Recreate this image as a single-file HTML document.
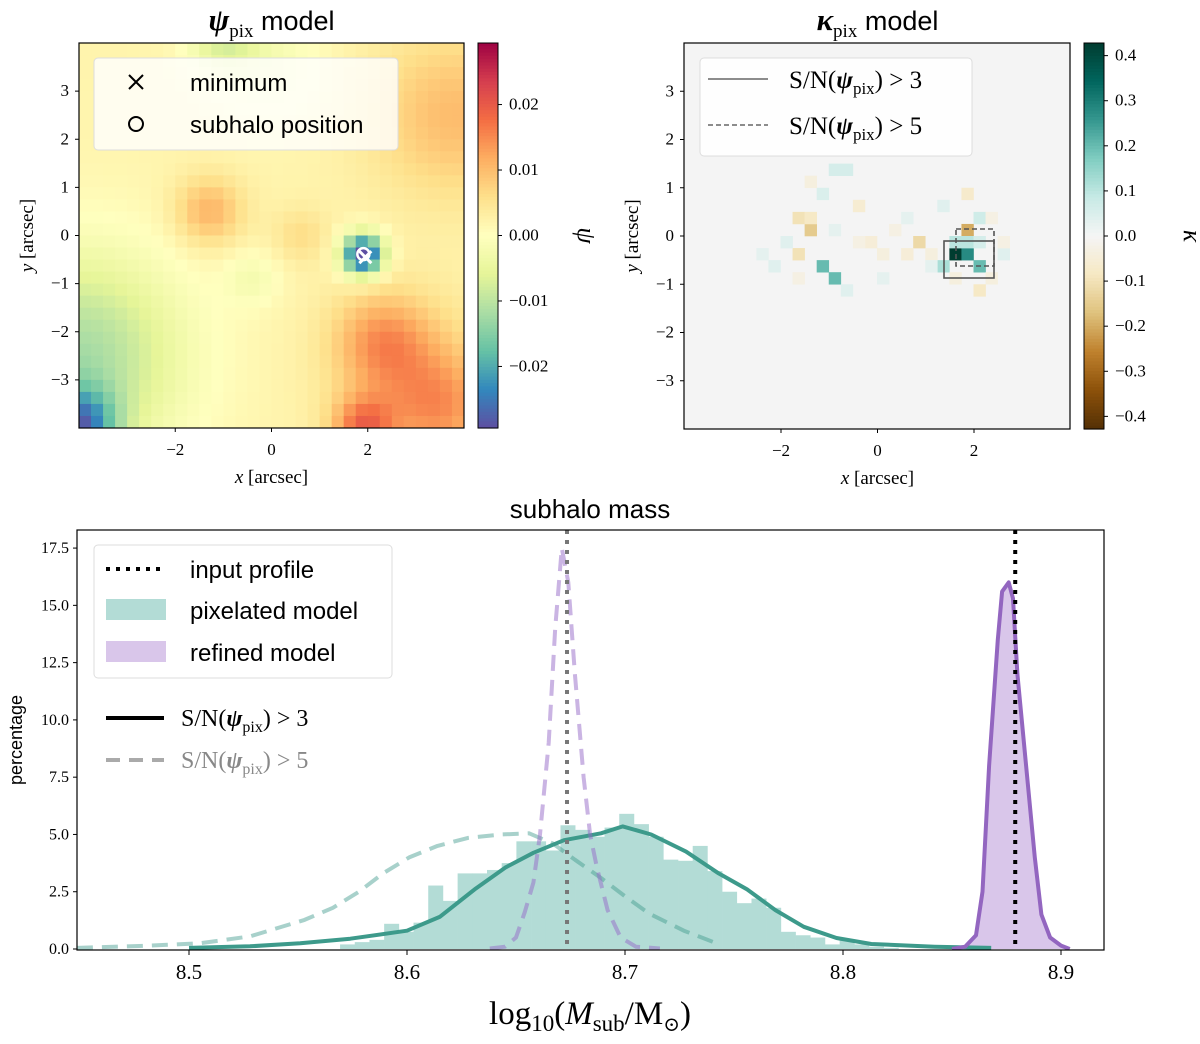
<!DOCTYPE html>
<html><head><meta charset="utf-8"><style>
html,body{margin:0;padding:0;background:#fff}
svg{display:block}
.tk{font-family:"Liberation Serif","DejaVu Serif",serif;fill:#000}
.sans{font-family:"Liberation Sans","DejaVu Sans",sans-serif;fill:#000}
.ser{font-family:"Liberation Serif","DejaVu Serif",serif;fill:#000}
</style></head><body>
<svg id="fig" width="1200" height="1044" viewBox="0 0 1200 1044" xmlns="http://www.w3.org/2000/svg">
<g id="psiPanel"></g>
<g id="kapPanel"></g>
<g id="massPanel"></g>
</svg>
<script>
// ---------- data: psi map (blob components) ----------
const psiBlobX = [-1.3, 1.9, 2.3, 1.9, -4.0, -4.0, 3.8, -1.0, 0.6, -0.4, 3.5, 0.0, 3.0];
const psiBlobY = [0.5, -0.4, -2.2, -4.0, -4.0, -2.5, 2.5, 4.0, 0.0, -0.9, -3.6, 3.5, -3.0];
const psiBlobAmp = [0.009, -0.034, 0.01, 0.014, -0.022, -0.014, 0.008, -0.008, 0.004, -0.004, 0.009, -0.004, 0.005];
const psiBlobSig = [0.5, 0.3, 0.7, 0.45, 0.55, 1.5, 1.2, 0.5, 0.4, 0.4, 0.8, 0.8, 1.2];
const psiBase = 0.002;
const psiTicks = [0.02, 0.01, 0.0, -0.01, -0.02];
const psiTickLabels = ["0.02", "0.01", "0.00", "\u22120.01", "\u22120.02"];
// ---------- data: kappa map (sparse cells: col,row,value) ----------
const kapCol = [22, 23, 23, 22, 23, 24, 21, 24, 11, 12, 10, 9, 10, 9, 14, 19, 23, 24, 24, 12, 13, 11, 18, 20, 8, 7, 16, 15, 25, 26, 17, 21, 9, 13, 18, 26, 22, 20, 6, 14, 16, 25, 10, 12];
const kapRow = [17, 17, 15, 16, 16, 16, 18, 18, 18, 19, 15, 14, 14, 17, 13, 16, 12, 20, 14, 10, 10, 12, 17, 17, 16, 18, 17, 16, 19, 17, 15, 13, 19, 20, 14, 16, 19, 18, 17, 16, 19, 14, 11, 15];
const kapVal = [0.43, 0.28, -0.2, 0.1, 0.1, 0.06, 0.12, 0.2, 0.2, 0.2, -0.15, -0.1, -0.08, -0.1, -0.06, -0.12, -0.07, -0.08, 0.07, 0.06, 0.06, 0.05, -0.05, -0.04, 0.04, 0.04, -0.04, -0.05, -0.04, 0.04, -0.03, 0.04, -0.03, 0.04, 0.03, -0.03, -0.04, 0.03, 0.03, -0.03, 0.03, -0.03, -0.04, 0.03];
const kapTicks = [0.4, 0.3, 0.2, 0.1, 0.0, -0.1, -0.2, -0.3, -0.4];
const kapTickLabels = ["0.4", "0.3", "0.2", "0.1", "0.0", "\u22120.1", "\u22120.2", "\u22120.3", "\u22120.4"];
const mapTicks = [-2, 0, 2];
const mapTickLabels = ["\u22122", "0", "2"];
const mapYTicks = [3, 2, 1, 0, -1, -2, -3];
const mapYTickLabels = ["3", "2", "1", "0", "\u22121", "\u22122", "\u22123"];
// ---------- data: mass panel ----------
const histStart = 8.5693;
const histWidth = 0.00674;
const histHeights = [0.2, 0.3, 0.4, 1.1, 0.75, 1.15, 2.77, 2.1, 3.3, 3.3, 3.45, 3.75, 4.7, 4.7, 4.3, 5.4, 5.2, 4.9, 5.3, 5.9, 5.45, 4.9, 3.9, 3.85, 4.5, 3.4, 2.5, 2.0, 2.2, 1.8, 0.75, 0.6, 0.5, 0.2, 0.4, 0.2, 0.1, 0.05];
const tealSolidX = [8.50, 8.528, 8.551, 8.574, 8.600, 8.615, 8.631, 8.645, 8.658, 8.672, 8.689, 8.699, 8.712, 8.728, 8.743, 8.756, 8.769, 8.782, 8.797, 8.813, 8.842, 8.868];
const tealSolidY = [0.05, 0.12, 0.25, 0.45, 0.8, 1.4, 2.6, 3.55, 4.2, 4.75, 5.05, 5.35, 5.0, 4.25, 3.3, 2.6, 1.7, 0.97, 0.48, 0.22, 0.1, 0.05];
const tealDashX = [8.4486, 8.482, 8.505, 8.528, 8.553, 8.566, 8.578, 8.589, 8.601, 8.614, 8.628, 8.643, 8.656, 8.667, 8.677, 8.689, 8.700, 8.711, 8.727, 8.742];
const tealDashY = [0.05, 0.15, 0.25, 0.55, 1.27, 1.8, 2.5, 3.3, 4.0, 4.5, 4.85, 5.0, 5.05, 4.6, 3.9, 3.1, 2.3, 1.55, 0.8, 0.25];
const purpDashX = [8.638, 8.645, 8.650, 8.654, 8.658, 8.661, 8.665, 8.668, 8.671, 8.674, 8.677, 8.681, 8.684, 8.687, 8.692, 8.698, 8.705, 8.716];
const purpDashY = [0.02, 0.1, 0.5, 1.6, 2.9, 5, 9, 14, 17.5, 16, 12, 7.5, 5, 3.6, 1.7, 0.5, 0.1, 0.02];
const purpSolidX = [8.850, 8.856, 8.861, 8.864, 8.867, 8.871, 8.873, 8.876, 8.878, 8.880, 8.884, 8.888, 8.891, 8.895, 8.900, 8.904];
const purpSolidY = [0.0, 0.1, 0.6, 2.5, 8, 13.5, 15.6, 16.0, 15.3, 12, 8, 4, 1.5, 0.5, 0.15, 0.0];
const inputValue = 8.879;
const snr5Value = 8.6734;
const massXTicks = [8.5, 8.6, 8.7, 8.8, 8.9];
const massXTickLabels = ["8.5", "8.6", "8.7", "8.8", "8.9"];
const massYTicks = [0, 2.5, 5, 7.5, 10, 12.5, 15, 17.5];
const massYTickLabels = ["0.0", "2.5", "5.0", "7.5", "10.0", "12.5", "15.0", "17.5"];

const NS = "http://www.w3.org/2000/svg";
function mk(parent, tag, attrs, text) {
  const e = document.createElementNS(NS, tag);
  for (const k in attrs) e.setAttribute(k, attrs[k]);
  if (text !== undefined) e.textContent = text;
  parent.appendChild(e);
  return e;
}
function hex(h){return [parseInt(h.substr(1,2),16),parseInt(h.substr(3,2),16),parseInt(h.substr(5,2),16)];}
function cmap(stops, t){
  t=Math.max(0,Math.min(1,t));
  const n=stops.length-1, f=t*n, i=Math.min(n-1,Math.floor(f)), u=f-i;
  const a=hex(stops[i]), b=hex(stops[i+1]);
  return "rgb("+a.map((v,k)=>Math.round(v+(b[k]-v)*u)).join(",")+")";
}
const spectralR = ["#5e4fa2","#3288bd","#66c2a5","#abdda4","#e6f598","#ffffbf","#fee08b","#fdae61","#f46d43","#d53e4f","#9e0142"];
const brbg = ["#543005","#8c510a","#bf812d","#dfc27d","#f6e8c3","#f5f5f5","#c7eae5","#80cdc1","#35978f","#01665e","#003c30"];

function mapAxes(g, L, T, S, cx, cy, titleSym, cbX, cbTicks, cbLabels, vmin, vmax, stops, cbSym, cbName) {
  const R = L + S, B = T + S;
  const sx = v => cx + v * (S / 8), sy = v => cy - v * (S / 8);
  mapTicks.forEach((v, i) => {
    const x = sx(v);
    const t = mk(g, "line", {x1:x, x2:x, y1:B, y2:B+4, stroke:"#000", "stroke-width":1});
    
    
    const lb = mk(g, "text", {x:x, y:B+27, "text-anchor":"middle", class:"tk", "font-size":"17"}, mapTickLabels[i]);
    
    
  });
  mapYTicks.forEach((v, i) => {
    const y = sy(v);
    const t = mk(g, "line", {x1:L-4, x2:L, y1:y, y2:y, stroke:"#000", "stroke-width":1});
    
    
    const lb = mk(g, "text", {x:L-10, y:y+5, "text-anchor":"end", class:"tk", "font-size":"17"}, mapYTickLabels[i]);
    
    
  });
  const xl = mk(g, "text", {x:cx, y:B+55, "text-anchor":"middle", class:"ser", "font-size":"19"});
  xl.innerHTML = '<tspan font-style="italic">x</tspan> [arcsec]';
  
  
  const yl = mk(g, "text", {x:0, y:0, "text-anchor":"middle", class:"ser", "font-size":"19", transform:"translate("+(L-46)+","+cy+") rotate(-90)"});
  yl.innerHTML = '<tspan font-style="italic">y</tspan> [arcsec]';
  
  
  const tt = mk(g, "text", {x:cx, y:30, "text-anchor":"middle", "font-size":"27"});
  tt.innerHTML = '<tspan class="ser" font-weight="bold" font-style="italic" font-size="31">'+titleSym+'</tspan><tspan class="ser" font-size="19" dy="7">pix</tspan><tspan class="sans" dy="-7"> model</tspan>';
  
  
  const cbw = 20, N = 120;
  const cg = mk(g, "g", {});
  
  
  for (let i = 0; i < N; i++) {
    const y = T + i * S / N;
    const v = vmax - (i + 0.5) / N * (vmax - vmin);
    mk(cg, "rect", {x:cbX, y:y, width:cbw, height:S/N+0.6, fill:cmap(stops, (v - vmin)/(vmax - vmin))});
  }
  mk(cg, "rect", {x:cbX, y:T, width:cbw, height:S, fill:"none", stroke:"#000", "stroke-width":1});
  cbTicks.forEach((v, i) => {
    const y = T + (vmax - v) / (vmax - vmin) * S;
    mk(cg, "line", {x1:cbX+cbw, x2:cbX+cbw+4, y1:y, y2:y, stroke:"#000"});
    const lb = mk(cg, "text", {x:cbX+cbw+11, y:y+5, class:"tk", "font-size":"17"}, cbLabels[i]);
    
    
  });
  const cl = mk(g, "text", {x:0, y:0, "text-anchor":"middle", class:"ser", "font-size":"26", "font-style":"italic", transform:"translate("+(cbX+cbw+80)+","+cy+") rotate(90)"}, cbSym);
  
  
  return {sx, sy, R, B};
}

// ===== psi panel =====
(function(){
  const g = document.getElementById("psiPanel");
  const L = 79, T = 43, S = 385, cx = 271.5, cy = 235.5, n = 32, c = S / n;
  const vmin = -0.0294, vmax = 0.0294;
  const hg = mk(g, "g", {});
  
  
  for (let r = 0; r < n; r++) for (let q = 0; q < n; q++) {
    const x = -4 + (q + 0.5) * 0.25, y = 4 - (r + 0.5) * 0.25;
    let v = psiBase;
    for (let k = 0; k < psiBlobX.length; k++) {
      const d2 = (x - psiBlobX[k]) ** 2 + (y - psiBlobY[k]) ** 2;
      v += psiBlobAmp[k] * Math.exp(-d2 / (2 * psiBlobSig[k] ** 2));
    }
    const cell = mk(hg, "rect", {x:L + q*c, y:T + r*c, width:c+0.5, height:c+0.5, fill:cmap(spectralR, (v - vmin)/(vmax - vmin))});
    
    
  }
  const ax = mapAxes(g, L, T, S, cx, cy, "\u03c8", 478, psiTicks, psiTickLabels, vmin, vmax, spectralR, "\u03c8", "psi-colorbar");
  const mx = ax.sx(1.95), my = ax.sy(-0.45);
  const m1 = mk(g, "circle", {cx:mx-2, cy:my-3, r:6, fill:"none", stroke:"#fff", "stroke-width":2.5});
  
  
  const m2 = mk(g, "path", {d:"M"+(mx-6)+","+(my-6)+"L"+(mx+6)+","+(my+6)+"M"+(mx+6)+","+(my-6)+"L"+(mx-6)+","+(my+6), stroke:"#fff", "stroke-width":3});
  
  
  mk(g, "rect", {x:L, y:T, width:S, height:S, fill:"none", stroke:"#000", "stroke-width":1.2});
  const lg = mk(g, "g", {});
  
  
  mk(lg, "rect", {x:94, y:58, width:304, height:92, rx:4, fill:"rgba(255,255,255,0.8)", stroke:"#ddd"});
  mk(lg, "path", {d:"M129,75L143,89M143,75L129,89", stroke:"#000", "stroke-width":2});
  mk(lg, "text", {x:190, y:91, class:"sans", "font-size":"24"}, "minimum");
  mk(lg, "circle", {cx:136, cy:124, r:7, fill:"none", stroke:"#000", "stroke-width":2});
  mk(lg, "text", {x:190, y:133, class:"sans", "font-size":"24"}, "subhalo position");
})();

// ===== kappa panel =====
(function(){
  const g = document.getElementById("kapPanel");
  const L = 684, T = 43, S = 386, cx = 877.5, cy = 236, n = 32, c = S / n;
  const vmin = -0.428, vmax = 0.428;
  mk(g, "rect", {x:L, y:T, width:S, height:S, fill:"#f4f4f4"});
  const hg = mk(g, "g", {});
  
  
  for (let i = 0; i < kapCol.length; i++) {
    const cell = mk(hg, "rect", {x:L + kapCol[i]*c, y:T + kapRow[i]*c, width:c+0.3, height:c+0.3, fill:cmap(brbg, (kapVal[i] - vmin)/(vmax - vmin))});
    
    
  }
  mapAxes(g, L, T, S, cx, cy, "\u03ba", 1084, kapTicks, kapTickLabels, vmin, vmax, brbg, "\u03ba", "kappa-colorbar");
  const b1 = mk(g, "rect", {x:944, y:241, width:50, height:37, fill:"none", stroke:"#555", "stroke-width":1.6});
  
  
  const b2 = mk(g, "rect", {x:956, y:229, width:38, height:37, fill:"none", stroke:"#555", "stroke-width":1.6, "stroke-dasharray":"5,3"});
  
  
  mk(g, "rect", {x:L, y:T, width:S, height:S, fill:"none", stroke:"#000", "stroke-width":1.2});
  const lg = mk(g, "g", {});
  
  
  mk(lg, "rect", {x:700, y:58, width:272, height:98, rx:4, fill:"rgba(255,255,255,0.85)", stroke:"#ddd"});
  mk(lg, "line", {x1:708, x2:768, y1:79, y2:79, stroke:"#666", "stroke-width":1.6});
  mk(lg, "line", {x1:708, x2:768, y1:125, y2:125, stroke:"#666", "stroke-width":1.6, "stroke-dasharray":"5,3"});
  const t1 = mk(lg, "text", {x:789, y:88, class:"ser", "font-size":"25"});
  t1.innerHTML = 'S/N(<tspan font-weight="bold" font-style="italic">\u03c8</tspan><tspan font-size="17" dy="6">pix</tspan><tspan dy="-6">) &gt; 3</tspan>';
  const t2 = mk(lg, "text", {x:789, y:134, class:"ser", "font-size":"25"});
  t2.innerHTML = 'S/N(<tspan font-weight="bold" font-style="italic">\u03c8</tspan><tspan font-size="17" dy="6">pix</tspan><tspan dy="-6">) &gt; 5</tspan>';
})();

// ===== mass panel =====
(function(){
  const g = document.getElementById("massPanel");
  const L = 77, T = 530, R = 1104, B = 950;
  const sx = v => 189 + (v - 8.5) * 2180;
  const sy = v => 949 - v * 22.91;
  const clip = mk(g, "clipPath", {id:"mclip"});
  mk(clip, "rect", {x:L, y:T, width:R-L, height:B-T});
  const pg = mk(g, "g", {"clip-path":"url(#mclip)"});
  histHeights.forEach((h, i) => {
    const x0 = sx(histStart + i * histWidth), x1 = sx(histStart + (i + 1) * histWidth);
    const b = mk(pg, "rect", {x:x0, y:sy(h), width:x1 - x0 + 0.3, height:sy(0) - sy(h), fill:"#b3dcd6"});
    
    
  });
  const pts = (X, Y) => X.map((x, i) => sx(x).toFixed(1) + "," + sy(Y[i]).toFixed(1)).join(" ");
  const pf = mk(pg, "polygon", {points: sx(purpSolidX[0]) + "," + sy(0) + " " + pts(purpSolidX, purpSolidY) + " " + sx(purpSolidX[purpSolidX.length-1]) + "," + sy(0), fill:"#d9c6ea"});
  
  
  const l1 = mk(pg, "polyline", {points:pts(tealDashX, tealDashY), fill:"none", stroke:"rgba(61,154,139,0.45)", "stroke-width":4, "stroke-dasharray":"16,9", "stroke-linejoin":"round"});
  
  
  const l2 = mk(pg, "polyline", {points:pts(tealSolidX, tealSolidY), fill:"none", stroke:"#3d9a8b", "stroke-width":4, "stroke-linejoin":"round"});
  
  
  const l3 = mk(pg, "polyline", {points:pts(purpDashX, purpDashY), fill:"none", stroke:"rgba(150,105,200,0.5)", "stroke-width":4, "stroke-dasharray":"16,9", "stroke-linejoin":"round"});
  
  
  const l4 = mk(pg, "polyline", {points:pts(purpSolidX, purpSolidY), fill:"none", stroke:"#9366c0", "stroke-width":4, "stroke-linejoin":"round"});
  
  
  const v1 = mk(pg, "line", {x1:sx(inputValue), x2:sx(inputValue), y1:T, y2:B, stroke:"#000", "stroke-width":4, "stroke-dasharray":"4,6"});
  
  
  const v2 = mk(pg, "line", {x1:sx(snr5Value), x2:sx(snr5Value), y1:T, y2:B, stroke:"#777", "stroke-width":4, "stroke-dasharray":"4,6"});
  
  
  mk(g, "rect", {x:L, y:T, width:R-L, height:B-T, fill:"none", stroke:"#000", "stroke-width":1.2});
  massXTicks.forEach((v, i) => {
    const x = sx(v);
    mk(g, "line", {x1:x, x2:x, y1:B, y2:B+5, stroke:"#000"});
    const lb = mk(g, "text", {x:x, y:B+29, "text-anchor":"middle", class:"tk", "font-size":"21"}, massXTickLabels[i]);
    
    
  });
  massYTicks.forEach((v, i) => {
    const y = sy(v);
    mk(g, "line", {x1:L-4, x2:L, y1:y, y2:y, stroke:"#000"});
    const lb = mk(g, "text", {x:L-8, y:y+5, "text-anchor":"end", class:"tk", "font-size":"16"}, massYTickLabels[i]);
    
    
  });
  const tt = mk(g, "text", {x:590, y:518, "text-anchor":"middle", class:"sans", "font-size":"26"}, "subhalo mass");
  
  
  const yl = mk(g, "text", {x:0, y:0, "text-anchor":"middle", class:"sans", "font-size":"18", transform:"translate(22,740) rotate(-90)"}, "percentage");
  
  
  const xl = mk(g, "text", {x:590, y:1024, "text-anchor":"middle", class:"ser", "font-size":"33"});
  xl.innerHTML = 'log<tspan font-size="23" dy="7">10</tspan><tspan dy="-7">(</tspan><tspan font-style="italic">M</tspan><tspan font-size="23" dy="7">sub</tspan><tspan dy="-7">/M</tspan><tspan font-size="20" dy="7">\u2299</tspan><tspan dy="-7">)</tspan>';
  
  
  const lg = mk(g, "g", {});
  
  
  mk(lg, "rect", {x:94, y:545, width:298, height:133, rx:4, fill:"rgba(255,255,255,0.85)", stroke:"#ddd"});
  mk(lg, "line", {x1:106, x2:166, y1:569, y2:569, stroke:"#000", "stroke-width":4, "stroke-dasharray":"4,6"});
  mk(lg, "text", {x:190, y:578, class:"sans", "font-size":"24"}, "input profile");
  mk(lg, "rect", {x:106, y:599, width:60, height:21, fill:"#b3dcd6"});
  mk(lg, "text", {x:190, y:619, class:"sans", "font-size":"24"}, "pixelated model");
  mk(lg, "rect", {x:106, y:641, width:60, height:21, fill:"#d9c6ea"});
  mk(lg, "text", {x:190, y:661, class:"sans", "font-size":"24"}, "refined model");
  const lg2 = mk(g, "g", {});
  
  
  mk(lg2, "line", {x1:106, x2:164, y1:718, y2:718, stroke:"#000", "stroke-width":4});
  const s1 = mk(lg2, "text", {x:181, y:726, class:"ser", "font-size":"24"});
  s1.innerHTML = 'S/N(<tspan font-weight="bold" font-style="italic">\u03c8</tspan><tspan font-size="16" dy="6">pix</tspan><tspan dy="-6">) &gt; 3</tspan>';
  mk(lg2, "line", {x1:106, x2:164, y1:760, y2:760, stroke:"#aaa", "stroke-width":4, "stroke-dasharray":"14,9"});
  const s2 = mk(lg2, "text", {x:181, y:768, class:"ser", "font-size":"24", fill:"#888", style:"fill:#888"});
  s2.innerHTML = 'S/N(<tspan font-weight="bold" font-style="italic">\u03c8</tspan><tspan font-size="16" dy="6">pix</tspan><tspan dy="-6">) &gt; 5</tspan>';
})();
</script>
</body></html>
